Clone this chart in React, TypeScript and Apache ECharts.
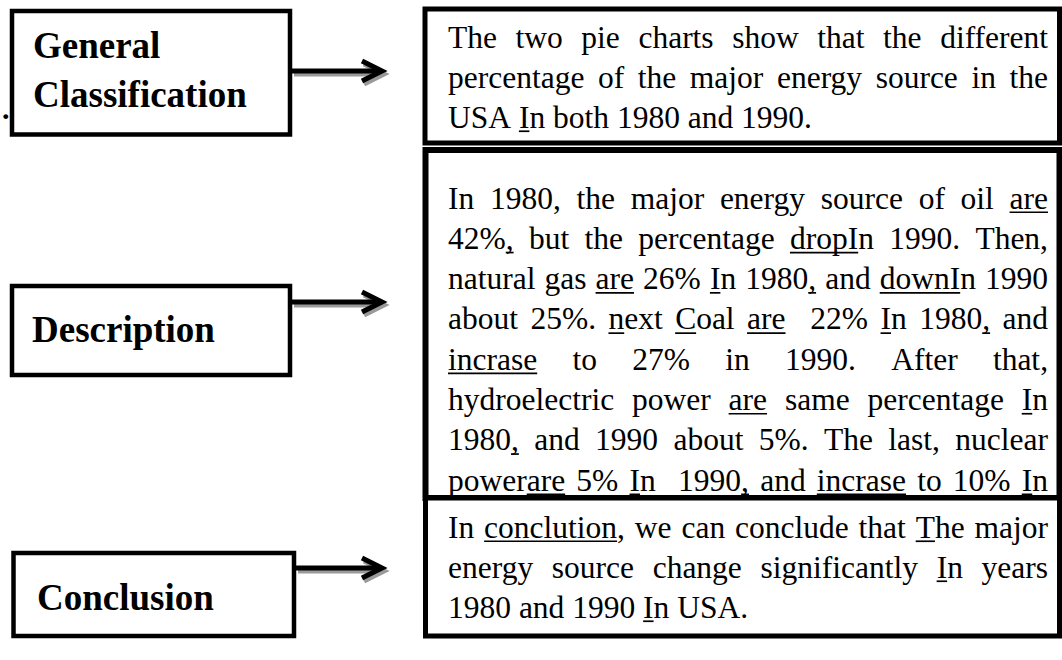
import React, { useEffect, useRef } from "react";
import * as echarts from "echarts";

const leftLabels: string[][] = [["General", "Classification"], ["Description"], ["Conclusion"]];

const introLines: string[] = [
  "The two pie charts show that the different",
  "percentage of the major energy source in the",
  "USA [I]n both 1980 and 1990.",
];

const descLines: string[] = [
  "In 1980, the major energy source of oil [are]",
  "42%[,] but the percentage [dropI]n 1990. Then,",
  "natural gas [are] 26% [I]n 1980[,] and [downI]n 1990",
  "about 25%. [n]ext [C]oal [are]  22% [I]n 1980[,] and",
  "[incrase] to 27% in 1990. After that,",
  "hydroelectric power [are] same percentage [I]n",
  "1980[,] and 1990 about 5%. The last, nuclear",
  "power[are] 5% [I]n  1990[,] and [incrase] to 10% [I]n",
];

const conclLines: string[] = [
  "In [conclution], we can conclude that [T]he major",
  "energy source change significantly [I]n years",
  "1980 and 1990 [I]n USA.",
];

const BODY_FONT = '31.5px "Liberation Serif", "Times New Roman", serif';
const LABEL_FONT = 'bold 37px "Liberation Serif", "Times New Roman", serif';
const TEXT_LEFT = 448;
const TEXT_RIGHT = 1048;

type Seg = { t: string; u: boolean };

function parseWord(w: string): Seg[] {
  const segs: Seg[] = [];
  const re = /\[([^\]]*)\]|([^\[]+)/g;
  let m: RegExpExecArray | null;
  while ((m = re.exec(w)) !== null) {
    if (m[1] !== undefined) segs.push({ t: m[1], u: true });
    else segs.push({ t: m[2], u: false });
  }
  return segs;
}

function layoutLine(ctx: CanvasRenderingContext2D, line: string, yc: number, justify: boolean): any[] {
  ctx.font = BODY_FONT;
  const words = line.split(" ").map(parseWord);
  const texts = words.map((s) => s.map((x) => x.t).join(""));
  const widths = texts.map((t) => (t ? ctx.measureText(t).width : 0));
  const spaceW = ctx.measureText(" ").width;
  const nGaps = words.length - 1;
  let gap = spaceW;
  if (justify && nGaps > 0) {
    const total = widths.reduce((a, b) => a + b, 0);
    gap = (TEXT_RIGHT - TEXT_LEFT - total) / nGaps;
  }
  const els: any[] = [];
  let x = TEXT_LEFT;
  words.forEach((segs, i) => {
    const t = texts[i];
    if (t) {
      els.push({
        type: "text",
        x,
        y: yc,
        style: { text: t, font: BODY_FONT, fill: "#000", align: "left", verticalAlign: "middle", textAlign: "left", textVerticalAlign: "middle" },
      });
      let prefix = "";
      segs.forEach((s) => {
        if (s.u) {
          const x0 = x + ctx.measureText(prefix).width;
          const w = ctx.measureText(s.t).width;
          els.push({ type: "rect", shape: { x: x0, y: yc + 13.4, width: w, height: 1.7 }, style: { fill: "#000" } });
        }
        prefix += s.t;
      });
    }
    x += widths[i] + gap;
  });
  return els;
}

function arrow(y: number, x0: number): any[] {
  const tip = 382;
  const head = [[362, y - 10], [tip, y], [362, y + 10]];
  const sh = (p: number[][]) => p.map(([a, b]) => [a + 2, b + 3]);
  const common = { lineWidth: 5, lineCap: "butt", lineJoin: "miter" };
  return [
    { type: "polyline", shape: { points: sh([[x0, y], [tip - 4, y]]) }, style: { ...common, stroke: "#9a9a9a" } },
    { type: "polyline", shape: { points: sh(head) }, style: { ...common, stroke: "#9a9a9a", fill: "none" } },
    { type: "polyline", shape: { points: [[x0, y], [tip - 4, y]] }, style: { ...common, stroke: "#000" } },
    { type: "polyline", shape: { points: head }, style: { ...common, stroke: "#000", fill: "none" } },
  ];
}

function box(x0: number, y0: number, x1: number, y1: number, lw: number, fill = "none"): any {
  return { type: "rect", shape: { x: x0, y: y0, width: x1 - x0, height: y1 - y0 }, style: { fill, stroke: "#000", lineWidth: lw } };
}

function label(t: string, x: number, y: number): any {
  return { type: "text", x, y, style: { text: t, font: LABEL_FONT, fill: "#000", align: "left", verticalAlign: "middle", textAlign: "left", textVerticalAlign: "middle" } };
}

export default function App() {
  const ref = useRef<HTMLDivElement>(null);
  useEffect(() => {
    document.body.style.margin = "0";
    if (!ref.current) return;
    const chart = echarts.init(ref.current, null, { renderer: "svg" });
    const canvas = document.createElement("canvas");
    const ctx = canvas.getContext("2d") as CanvasRenderingContext2D;

    const els: any[] = [];
    els.push({ type: "rect", shape: { x: 0, y: 0, width: 1062, height: 660 }, style: { fill: "#fff" } });

    // left boxes
    els.push(box(12, 11, 290, 134.5, 4.5));
    els.push(label(leftLabels[0][0], 33, 45));
    els.push(label(leftLabels[0][1], 33, 94));
    els.push({ type: "text", x: 2, y: 108, style: { text: ".", font: 'bold 30px "Liberation Serif", serif', fill: "#000", align: "left", verticalAlign: "middle", textAlign: "left", textVerticalAlign: "middle" } });
    els.push(box(12, 286, 290, 375, 4.5));
    els.push(label(leftLabels[1][0], 32, 329));
    els.push(box(13.5, 553, 294, 636, 4.5));
    els.push(label(leftLabels[2][0], 37, 597));

    els.push(...arrow(71, 292));
    els.push(...arrow(302, 292));
    els.push(...arrow(568, 296));

    // right boxes
    introLines.forEach((l, i) => els.push(...layoutLine(ctx, l, 37 + i * 40, i < introLines.length - 1)));
    els.push(box(425, 9, 1059.5, 143, 5));
    descLines.forEach((l, i) => els.push(...layoutLine(ctx, l, 198 + i * 40.3, true)));
    els.push(box(425.5, 150, 1059.5, 498, 6));
    els.push(box(425.5, 498, 1059.5, 636, 5, "#fff"));
    conclLines.forEach((l, i) => els.push(...layoutLine(ctx, l, 527 + i * 40, i < conclLines.length - 1)));

    chart.setOption({ animation: false, graphic: { elements: els } });
    return () => chart.dispose();
  }, []);
  return <div ref={ref} style={{ width: 1062, height: 660 }} />;
}
